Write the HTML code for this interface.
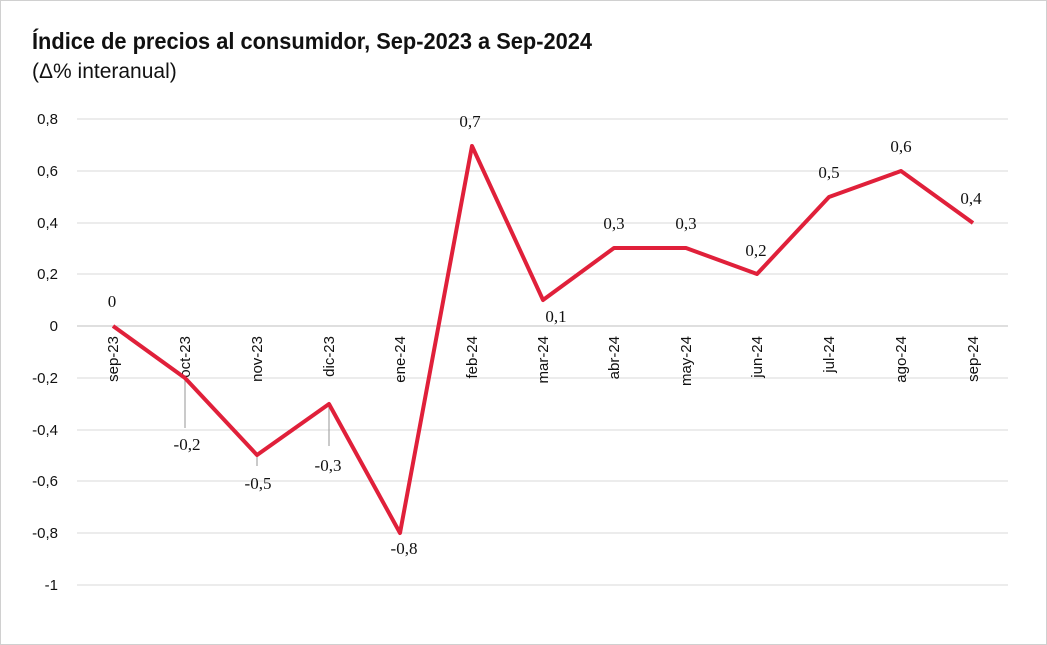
<!DOCTYPE html>
<html><head><meta charset="utf-8"><style>
html,body{margin:0;padding:0;background:#fff}
svg{display:block}
</style></head><body>
<svg width="1047" height="645" viewBox="0 0 1047 645" xmlns="http://www.w3.org/2000/svg">
<rect x="0.5" y="0.5" width="1046" height="644" fill="#fff" stroke="#d0d0d0"/>
<text x="32" y="49" font-family="Liberation Sans, sans-serif" font-weight="bold" font-size="23" fill="#111" textLength="560" lengthAdjust="spacingAndGlyphs">Índice de precios al consumidor, Sep-2023 a Sep-2024</text>
<text x="32" y="78" font-family="Liberation Sans, sans-serif" font-size="21" fill="#111">(Δ% interanual)</text>
<g stroke="#d9d9d9" stroke-width="1">
<line x1="77" x2="1008" y1="119" y2="119"/><line x1="77" x2="1008" y1="171" y2="171"/>
<line x1="77" x2="1008" y1="223" y2="223"/><line x1="77" x2="1008" y1="274" y2="274"/>
<line x1="77" x2="1008" y1="378" y2="378"/><line x1="77" x2="1008" y1="430" y2="430"/>
<line x1="77" x2="1008" y1="481" y2="481"/><line x1="77" x2="1008" y1="533" y2="533"/>
<line x1="77" x2="1008" y1="585" y2="585"/>
</g>
<line x1="77" x2="1008" y1="326" y2="326" stroke="#bfbfbf"/>
<g font-family="Liberation Sans, sans-serif" font-size="15" fill="#111" text-anchor="end">
<text x="58" y="124">0,8</text><text x="58" y="176">0,6</text><text x="58" y="228">0,4</text>
<text x="58" y="279">0,2</text><text x="58" y="331">0</text><text x="58" y="383">-0,2</text>
<text x="58" y="435">-0,4</text><text x="58" y="486">-0,6</text><text x="58" y="538">-0,8</text>
<text x="58" y="590">-1</text>
</g>
<g font-family="Liberation Sans, sans-serif" font-size="15" fill="#111" text-anchor="end">
<text transform="translate(118,336) rotate(-90)">sep-23</text>
<text transform="translate(190,336) rotate(-90)">oct-23</text>
<text transform="translate(262,336) rotate(-90)">nov-23</text>
<text transform="translate(334,336) rotate(-90)">dic-23</text>
<text transform="translate(405,336) rotate(-90)">ene-24</text>
<text transform="translate(477,336) rotate(-90)">feb-24</text>
<text transform="translate(548,336) rotate(-90)">mar-24</text>
<text transform="translate(619,336) rotate(-90)">abr-24</text>
<text transform="translate(691,336) rotate(-90)">may-24</text>
<text transform="translate(762,336) rotate(-90)">jun-24</text>
<text transform="translate(834,336) rotate(-90)">jul-24</text>
<text transform="translate(906,336) rotate(-90)">ago-24</text>
<text transform="translate(978,336) rotate(-90)">sep-24</text>
</g>
<g stroke="#a6a6a6" stroke-width="1.2">
<line x1="185" y1="378" x2="185" y2="428"/>
<line x1="257" y1="455" x2="257" y2="466"/>
<line x1="329" y1="404" x2="329" y2="446"/>
</g>
<polyline fill="none" stroke="#e0203a" stroke-width="4" stroke-linejoin="round"
points="113,326 185,378 257,455 329,404 400,533 472,146 543,300 614,248 686,248 757,274 829,197 901,171 973,223"/>
<g font-family="Liberation Serif, serif" font-size="17" fill="#111" text-anchor="middle">
<text x="112" y="307">0</text>
<text x="187" y="450">-0,2</text>
<text x="258" y="489">-0,5</text>
<text x="328" y="471">-0,3</text>
<text x="404" y="554">-0,8</text>
<text x="470" y="127">0,7</text>
<text x="556" y="322">0,1</text>
<text x="614" y="229">0,3</text>
<text x="686" y="229">0,3</text>
<text x="756" y="256">0,2</text>
<text x="829" y="178">0,5</text>
<text x="901" y="152">0,6</text>
<text x="971" y="204">0,4</text>
</g>
</svg>
</body></html>
